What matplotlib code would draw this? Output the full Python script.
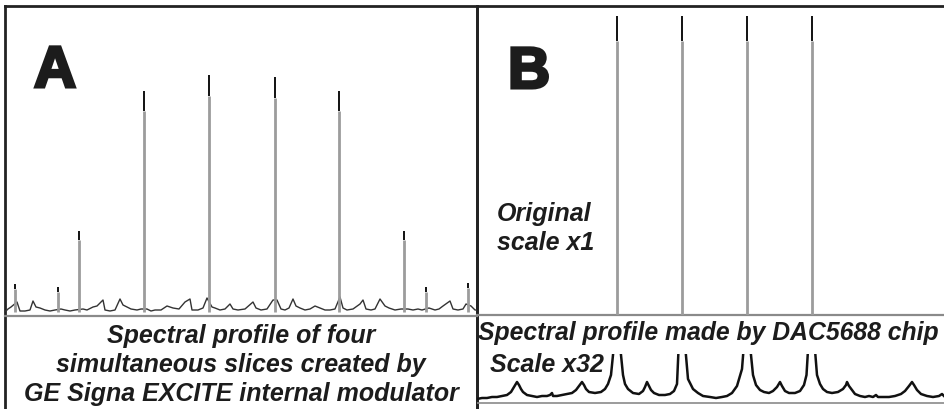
import matplotlib
matplotlib.use('Agg')
import matplotlib.pyplot as plt
import matplotlib.patheffects as pe

#
#--- panel A: EXCITE modulator spectrum (frequency bin, amplitude)
#
a_noise_x = [0, 1, 3, 6, 12, 15, 20, 25, 28, 31, 35, 40, 45, 50, 56, 60, 65, 70, 78, 82, 88,
             92, 98, 100, 105, 110, 115, 118, 122, 126, 132, 136, 142, 146, 150, 156, 162, 168,
             174, 180, 185, 187, 193, 198, 202, 207, 210, 215, 220, 225, 228, 233, 240, 248,
             251, 256, 262, 268, 272, 276, 280, 284, 288, 291, 295, 300, 305, 310, 315, 320,
             325, 330, 335, 338, 342, 348, 355, 358, 361, 366, 370, 375, 380, 384, 390, 396,
             403, 408, 413, 417, 424, 430, 434, 438, 445, 448, 453, 458, 461, 466, 470, 472]
a_noise_y = [1, 1, 3, 5, 10, 1, 1, 2, 11, 5, 4, 2, 1, 2, 3, 2, 1, 2, 3, 2, 5,
             6, 12, 2, 1, 2, 13, 7, 5, 3, 2, 3, 3, 1, 2, 2, 6, 4,
             3, 10, 13, 2, 2, 4, 14, 5, 4, 2, 3, 8, 3, 2, 3, 10,
             4, 2, 3, 12, 12, 3, 2, 4, 13, 6, 4, 2, 3, 6, 4, 2,
             2, 3, 15, 4, 2, 3, 8, 12, 3, 2, 3, 13, 6, 4, 2, 3,
             3, 2, 3, 2, 4, 2, 3, 6, 11, 3, 2, 3, 8, 6, 2, 2]
a_peak_x  = [10, 53, 74.3, 139, 204, 270, 334.3, 399.3, 421, 463]
a_peak_h  = [28, 25, 81, 221, 237, 235, 221, 81, 25, 29]

#
#--- panel B: DAC5688 spectrum, original scale and x32
#
b_peak_x  = [140, 205, 270, 334.5]
b_peak_h  = [299, 299, 299, 299]

b32_x = [0, 5, 10, 15, 20, 25, 30, 34, 37, 40, 42, 44, 46, 50, 55, 60, 65, 70, 73, 75, 76,
         80, 85, 90, 95, 99, 102, 105, 107, 109, 112, 118, 124, 128, 131, 134, 136.5, 140,
         143.5, 146, 148, 151, 156, 162, 166, 168, 170, 172, 174, 177, 182, 188, 193, 197,
         200, 201.5, 205, 208.5, 211, 216, 221, 226, 233, 239, 245, 250, 255, 260, 265,
         266.5, 270, 273.5, 276, 279, 283, 287, 292, 296, 300, 303, 305, 308, 312, 318,
         323, 327, 329.5, 331, 334.5, 338, 340, 343, 346, 350, 355, 361, 366, 369, 370,
         372, 375, 378, 383, 388, 392, 396, 399, 401, 406, 412, 418, 424, 428, 432, 435,
         437, 440, 444, 450, 456, 462, 465, 468, 472]
b32_y = [1, 2, 2, 3, 3, 4, 5, 8, 13, 18, 15, 11, 8, 5, 4, 3, 4, 4, 5, 7, 4,
         4, 5, 6, 7, 10, 14, 18, 15, 11, 8, 7, 8, 11, 16, 25, 50, 9000,
         50, 25, 16, 11, 7, 6, 9, 13, 18, 14, 10, 7, 5, 5, 6, 9,
         16, 50, 9000, 50, 21, 11, 7, 4, 3, 2, 3, 4, 7, 14, 31,
         50, 9000, 50, 25, 15, 10, 8, 7, 9, 13, 18, 14, 9, 7, 7,
         9, 15, 25, 50, 9000, 50, 25, 16, 11, 8, 7, 8, 11, 15, 18,
         14, 10, 6, 4, 3, 4, 3, 5, 3, 3, 3, 4, 6, 9, 14, 18,
         15, 10, 6, 4, 3, 4, 6, 3, 2]

W, H = 945, 410
ink  = '#1c1c1c'
font = 'Liberation Sans'

def px_axes(fig, x0, y0, x1, y1):
    """ add axes from a pixel box (x0, y0 top-left; x1, y1 bottom-right) """
    return fig.add_axes([x0 / W, 1 - y1 / H, (x1 - x0) / W, (y1 - y0) / H])

def spikes(ax, xs, hs, lw):
    for x, h in zip(xs, hs):
        tip = 0.075 * h + 3
        ax.plot([x, x], [0, h - tip], color='#9c9c9c', lw=lw, solid_capstyle='butt', zorder=3)
        ax.plot([x, x], [h - tip, h], color='#111111', lw=lw * 0.7, solid_capstyle='butt', zorder=4)

def bare(ax):
    ax.set_xticks([])
    ax.set_yticks([])
    for s in ax.spines.values():
        s.set_visible(False)
    ax.patch.set_alpha(0)

fig = plt.figure(figsize=(W / 100, H / 100), dpi=100)
fig.patch.set_facecolor('white')
#
#--- panel frames
#
frA = px_axes(fig, 5, 7, 477, 416)
bare(frA)
for s in ['left', 'top', 'right']:
    frA.spines[s].set_visible(True)
    frA.spines[s].set_color('#222222')
    frA.spines[s].set_linewidth(2.0)

frB = px_axes(fig, 477, 7, 952, 416)
bare(frB)
for s in ['left', 'top']:
    frB.spines[s].set_visible(True)
    frB.spines[s].set_color('#222222')
    frB.spines[s].set_linewidth(2.0)
#
#--- panel A spectrum
#
axA = px_axes(fig, 5, 7, 477, 317)
bare(axA)
axA.spines['bottom'].set_visible(True)
axA.spines['bottom'].set_color('#8a8a8a')
axA.spines['bottom'].set_linewidth(1.6)
axA.set_xlim(0, 472)
axA.set_ylim(-4, 306)
axA.plot(a_noise_x, a_noise_y, color='#333333', lw=1.0, zorder=2)
spikes(axA, a_peak_x, a_peak_h, 2.0)
#
#--- panel B original scale
#
axB = px_axes(fig, 477, 7, 952, 316)
bare(axB)
axB.spines['bottom'].set_visible(True)
axB.spines['bottom'].set_color('#8a8a8a')
axB.spines['bottom'].set_linewidth(1.6)
axB.set_xlim(0, 475)
axB.set_ylim(0, 309)
spikes(axB, b_peak_x, b_peak_h, 2.0)
#
#--- panel B scale x32
#
axC = px_axes(fig, 477, 355, 952, 410)
bare(axC)
axC.set_xlim(0, 475)
axC.set_ylim(-9, 46)
axC.axhline(-3, color='#8a8a8a', lw=1.2)
axC.plot(b32_x, b32_y, color='#111111', lw=1.8, zorder=3)
#
#--- labels
#
def ftext(x, y, s, size, **kw):
    fig.text(x / W, 1 - y / H, s, fontsize=size, family=font, color=ink, **kw)

big = [pe.withStroke(linewidth=2.2, foreground=ink, joinstyle='miter')]
ftext(34, 88, 'A', 42, weight='bold', va='baseline', ha='left', path_effects=big)
ftext(508, 89, 'B', 42, weight='bold', va='baseline', ha='left', path_effects=big)

lab = dict(weight='bold', style='italic', va='baseline')
ftext(497, 221, 'Original', 18, **lab)
ftext(497, 250, 'scale x1', 18, **lab)

ftext(241, 343, 'Spectral profile of four', 18, ha='center', **lab)
ftext(241, 372, 'simultaneous slices created by', 18, ha='center', **lab)
ftext(241, 401, 'GE Signa EXCITE internal modulator', 18, ha='center', **lab)

ftext(478, 340, 'Spectral profile made by DAC5688 chip', 17.8, **lab)
ftext(490, 372, 'Scale x32', 18, **lab)

plt.savefig('out.png', dpi=100)
plt.close('all')
